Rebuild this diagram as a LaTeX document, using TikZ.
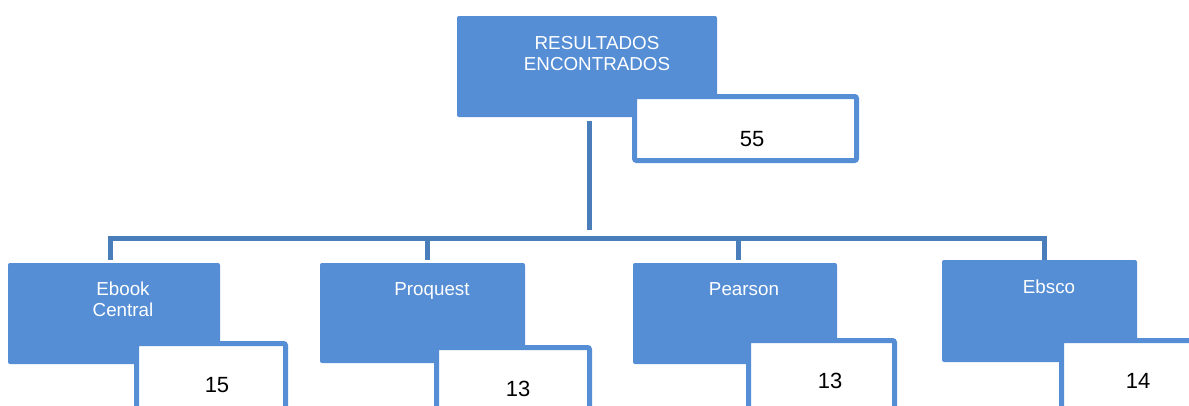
\documentclass[tikz,border=0pt]{standalone}
\usepackage{fontspec}
\setmainfont{Liberation Sans}
\definecolor{boxblue}{RGB}{85,142,213}
\definecolor{lineblue}{RGB}{74,126,187}
\tikzset{
  bluebox/.style={fill=boxblue, draw=none, rounded corners=2pt, inner sep=0pt},
  numbox/.style={fill=white, draw=boxblue, line width=5pt, rounded corners=2pt, inner sep=0pt},
  wtext/.style={text=white, font=\fontsize{18.8}{21}\selectfont, align=center, inner sep=0pt},
  ntext/.style={text=black, font=\fontsize{22}{24}\selectfont, inner sep=0pt},
  conn/.style={draw=lineblue, line width=5pt}
}
\begin{document}
\begin{tikzpicture}[x=1pt,y=-1pt]
\useasboundingbox (0,0) rectangle (1189,405);
\fill[white] (0,0) rectangle (1189,405);
\clip (0,0) rectangle (1189,405);
% top
\node[bluebox, minimum width=260pt, minimum height=101pt] (top) at (587,66.5) {};
\node[numbox, minimum width=222pt, minimum height=64pt] (n55) at (745.5,128.5) {};
\node[wtext, anchor=center] (toptext) at (597,54) {RESULTADOS\\ENCONTRADOS};
\node[ntext, anchor=base] (t55) at (752,146) {55};
% bottom boxes
\node[bluebox, minimum width=212pt, minimum height=101pt] (ebook) at (114,313.5) {};
\node[bluebox, minimum width=205pt, minimum height=100pt] (proquest) at (422.5,313) {};
\node[bluebox, minimum width=204pt, minimum height=101pt] (pearson) at (735,313.5) {};
\node[bluebox, minimum width=195pt, minimum height=102pt] (ebsco) at (1039.5,311) {};
\node[numbox, minimum width=149pt, minimum height=80pt] (n15) at (211,383.5) {};
\node[numbox, minimum width=153pt, minimum height=80pt] (n13a) at (513,387.5) {};
\node[numbox, minimum width=146pt, minimum height=80pt] (n13b) at (821.5,380.5) {};
\node[numbox, minimum width=160pt, minimum height=80pt] (n14) at (1141.5,380.5) {};
\node[wtext, anchor=center] (ebooktext) at (123,299) {Ebook\\Central};
\node[wtext, anchor=base] (proquesttext) at (432,295) {Proquest};
\node[wtext, anchor=base] (pearsontext) at (744,295) {Pearson};
\node[wtext, anchor=base] (ebscotext) at (1049,293) {Ebsco};
\node[ntext, anchor=base] (t15) at (217,392) {15};
\node[ntext, anchor=base] (t13a) at (518,396) {13};
\node[ntext, anchor=base] (t13b) at (830,388) {13};
\node[ntext, anchor=base] (t14) at (1138,388) {14};
% connectors
\coordinate (v1) at (589,121);
\coordinate (v2) at (589,230);
\coordinate (hl) at (110,238);
\coordinate (hr) at (1044,238);
\coordinate (p1) at (427,238);
\coordinate (p2) at (738,238);
\draw[conn] (v1) -- (v2);
\draw[conn, shorten <=3pt] (ebook.north -| hl) -- (hl) -- (hr) -- (ebsco.north -| hr);
\draw[conn, shorten >=3pt] (p1) -- (proquest.north -| p1);
\draw[conn, shorten >=3pt] (p2) -- (pearson.north -| p2);
\end{tikzpicture}
\end{document}
